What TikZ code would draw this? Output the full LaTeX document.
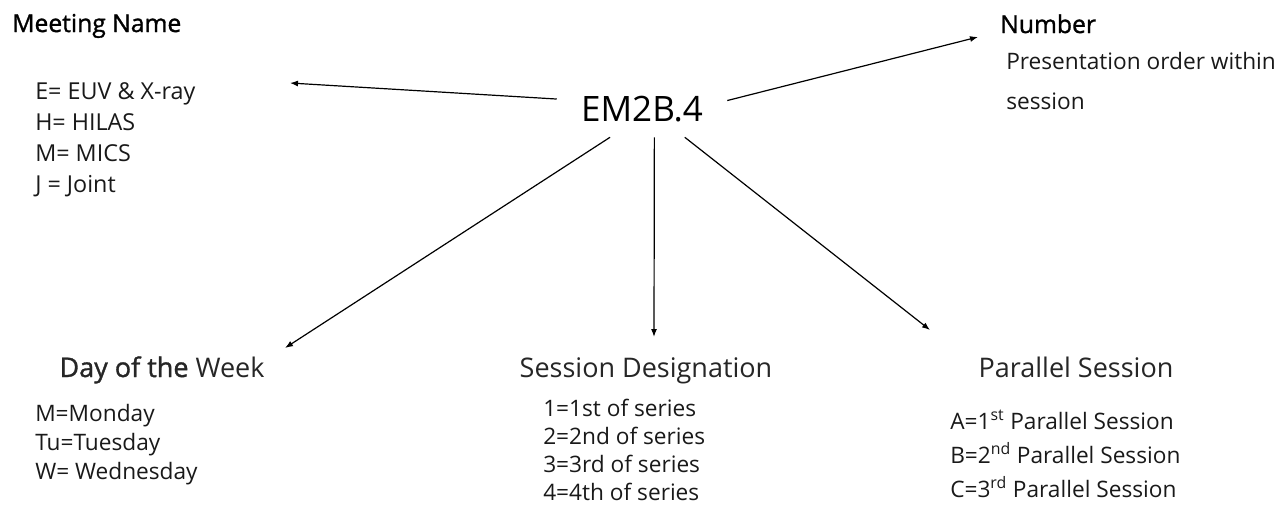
\documentclass[tikz,border=0pt]{standalone}
\usepackage{fontspec}
\setmainfont{Open Sans}
\newfontfamily\medium[FakeBold=1.2]{Open Sans}
\usepackage{tikz}
\usetikzlibrary{arrows.meta}

\definecolor{textgray}{RGB}{38,38,38}

\begin{document}
\begin{tikzpicture}[x=0.75pt,y=0.75pt,yscale=-1,xscale=1,
  tophdr/.style={inner sep=0pt,anchor=base west,font=\medium\fontsize{18.5}{22}\selectfont},
  lowhdr/.style={inner sep=0pt,anchor=base,text=textgray,font=\fontsize{20.25}{24}\selectfont},
  lst/.style={inner sep=0pt,anchor=north west,align=left,text=black!90},
  arr/.style={-{Latex[length=6pt,width=4.5pt]},line width=0.9pt}]
\useasboundingbox (0,0) rectangle (1278,508);

% Code Node
\node [inner sep=0pt,minimum width=127.5pt,minimum height=41.25pt,font=\fontsize{26.25}{30}\selectfont] (em) at (642,109.5) {EM2B.4};

% Text Node
\node [tophdr] (mname) at (12,32) {Meeting Name};
% Text Node
\node [lst,font=\fontsize{17.5}{23.25}\selectfont] (mlist) at (35,82) {E= EUV \& X-ray\\H= HILAS\\M= MICS\\J = Joint};
% Text Node
\node [tophdr] (num) at (1000,33) {Number};
% Text Node
\node [lst,font=\fontsize{17}{30}\selectfont] (nlist) at (1006,52) {Presentation order within\\session};
% Text Node
\node [lowhdr] (day) at (162,377) {{\medium Day of the} Week};
% Text Node
\node [lst,font=\fontsize{17}{21.75}\selectfont] (dlist) at (35,404) {M=Monday\\Tu=Tuesday\\W= Wednesday};
% Text Node
\node [lowhdr] (sdes) at (646,377) {Session Designation};
% Text Node
\node [lst,font=\fontsize{17}{21}\selectfont] (slist) at (543,399) {1=1st of series\\2=2nd of series\\3=3rd of series\\4=4th of series};
% Text Node
\node [lowhdr] (par) at (1076,377) {Parallel Session};
% Text Node
\node [lst,font=\fontsize{17}{25.5}\selectfont] (plist) at (950,410) {A=1\textsuperscript{st} Parallel Session\\B=2\textsuperscript{nd} Parallel Session\\C=3\textsuperscript{rd} Parallel Session};

% Arrow tips
\coordinate (mtip) at (290,83);
\coordinate (ntip) at (978,37);
\coordinate (dtip) at (285,348);
\coordinate (stip) at (654,337);
\coordinate (ptip) at (930,330);

%Straight Lines
\draw [arr] (em.173) -- (mtip);
%Straight Lines
\draw [arr] (em.6) -- (ntip);
%Straight Lines
\draw [arr] (em.221) -- (dtip);
%Straight Lines
\draw [arr] (em.294) -- (stip);
%Straight Lines
\draw [arr] (em.327) -- (ptip);

\end{tikzpicture}
\end{document}
